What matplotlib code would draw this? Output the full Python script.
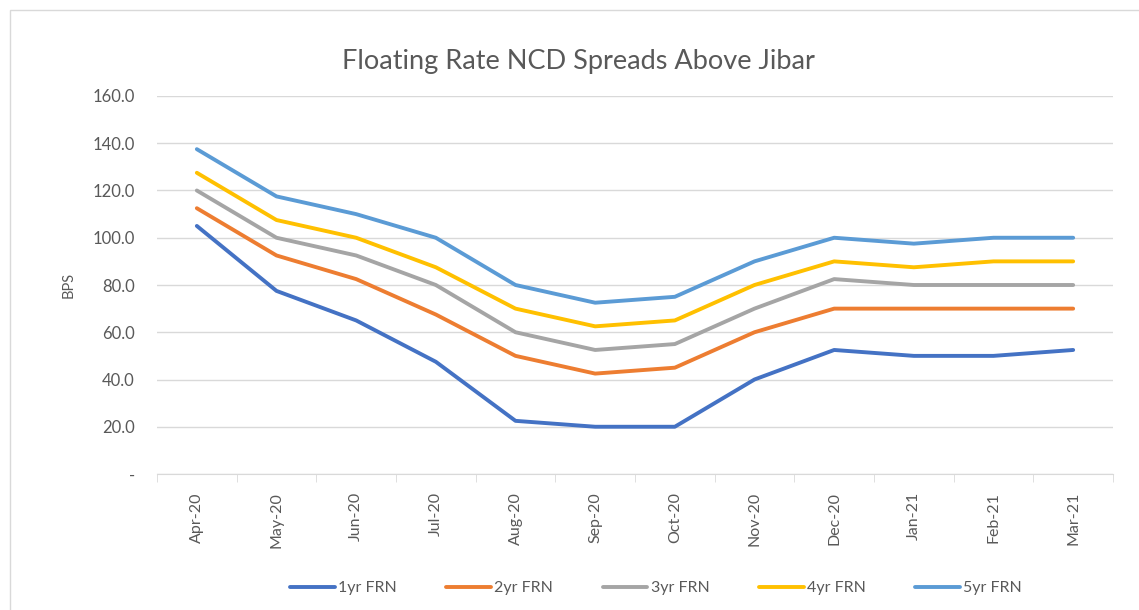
import numpy as np
import matplotlib
matplotlib.use('Agg')
import matplotlib.pyplot as plt
from matplotlib.patches import Rectangle

plt.rcParams['font.family'] = ['Lato', 'DejaVu Sans']

months = ['Apr-20', 'May-20', 'Jun-20', 'Jul-20', 'Aug-20', 'Sep-20',
          'Oct-20', 'Nov-20', 'Dec-20', 'Jan-21', 'Feb-21', 'Mar-21']
frn1 = [105, 77.5, 65, 47.5, 22.5, 20, 20, 40, 52.5, 50, 50, 52.5]
frn2 = [112.5, 92.5, 82.5, 67.5, 50, 42.5, 45, 60, 70, 70, 70, 70]
frn3 = [120, 100, 92.5, 80, 60, 52.5, 55, 70, 82.5, 80, 80, 80]
frn4 = [127.5, 107.5, 100, 87.5, 70, 62.5, 65, 80, 90, 87.5, 90, 90]
frn5 = [137.5, 117.5, 110, 100, 80, 72.5, 75, 90, 100, 97.5, 100, 100]
names = ['1yr FRN', '2yr FRN', '3yr FRN', '4yr FRN', '5yr FRN']
colors = ['#4472C4', '#ED7D31', '#A5A5A5', '#FFC000', '#5B9BD5']
yticks = [0, 20, 40, 60, 80, 100, 120, 140, 160]

txt = '#595959'
fig = plt.figure(figsize=(11.39, 6.10), dpi=100)
fig.patches.append(Rectangle((10/1139, -0.1), 1.2, 1 - 10/610 + 0.1,
                             transform=fig.transFigure, fill=False,
                             edgecolor='#D9D9D9', linewidth=1))
ax = fig.add_axes([157/1139, 1 - 474/610, 956/1139, 378/610])

x = np.arange(len(months))
for ys, n, c in zip([frn1, frn2, frn3, frn4, frn5], names, colors):
    ax.plot(x, ys, color=c, linewidth=2.8, label=n, solid_capstyle='round')

ax.set_xlim(-0.5, len(months) - 0.5)
ax.set_ylim(0, 160)
ax.set_yticks(yticks)
ax.set_yticklabels(['-' if v == 0 else f'{v:.1f}' for v in yticks])
ax.grid(axis='y', color='#D9D9D9', linewidth=1)
ax.set_axisbelow(True)
for s in ['top', 'right', 'left']:
    ax.spines[s].set_visible(False)
ax.spines['bottom'].set_color('#D9D9D9')
ax.tick_params(axis='y', length=0, labelsize=12, labelcolor=txt, pad=16)

ax.set_xticks(x)
ax.set_xticklabels(months, rotation=90)
ax.tick_params(axis='x', which='major', length=0, labelsize=11.5, labelcolor=txt, pad=13)
ax.set_xticks(np.arange(len(months) + 1) - 0.5, minor=True)
ax.tick_params(axis='x', which='minor', length=6, color='#D9D9D9')

ax.set_ylabel('BPS', color=txt, fontsize=10.5, labelpad=12)
fig.text(578/1139, 1 - 62/610, 'Floating Rate NCD Spreads Above Jibar',
         ha='center', va='center', fontsize=19.5, color=txt)

ax.legend(loc='center', bbox_to_anchor=(656/1139, 1 - 588/610),
          bbox_transform=fig.transFigure, ncol=5, frameon=False,
          fontsize=11.5, labelcolor=txt, handlelength=2.8, columnspacing=3.1,
          handletextpad=0.2)

fig.savefig('out.png', dpi=100)
